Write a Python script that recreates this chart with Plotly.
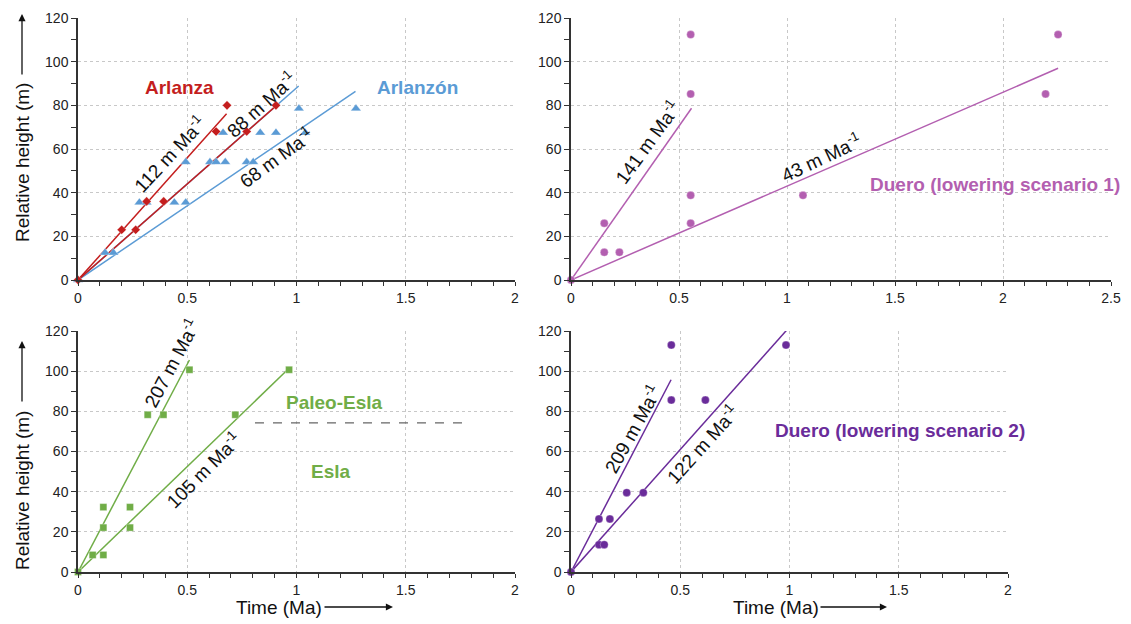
import plotly.graph_objects as go

W, H = 1123, 616   # visible area inside the page body margin
OFF = 8            # page body margin offset of the plot div

# ---------------- data ----------------
arlanza_t = [0, 0.20, 0.264, 0.314, 0.392, 0.632, 0.682, 0.772, 0.906]
arlanza_h = [0, 23, 23, 36, 36, 68, 80, 68, 80]

arlanzon_t = [0, 0.124, 0.162, 0.281, 0.314, 0.441, 0.493, 0.493, 0.604, 0.632,
              0.674, 0.772, 0.802, 0.664, 0.834, 0.906, 1.040, 1.011, 1.272]
arlanzon_h = [0, 12.5, 12.5, 35.5, 35.5, 35.5, 35.5, 54, 54, 54,
              54, 54, 54, 67.5, 67.5, 67.5, 67.5, 78.5, 78.5]

duero1_t = [0, 0.154, 0.154, 0.224, 0.554, 0.554, 0.554, 0.554, 1.074, 2.197, 2.255]
duero1_h = [0, 26, 12.7, 12.7, 112.4, 85.2, 38.8, 26, 38.8, 85.2, 112.4]

esla_t = [0, 0.067, 0.116, 0.116, 0.116, 0.238, 0.238, 0.319, 0.391, 0.51, 0.72, 0.966]
esla_h = [0, 8.5, 8.5, 22.1, 32.3, 22.1, 32.3, 78.3, 78.3, 100.7, 78.3, 100.7]

duero2_t = [0, 0.128, 0.128, 0.152, 0.178, 0.255, 0.331, 0.459, 0.459, 0.615, 0.984]
duero2_h = [0, 26.4, 13.6, 13.6, 26.4, 39.5, 39.5, 113, 85.6, 85.6, 113]

# incision rates (m/Ma) and the time span of each fitted line
arlanza_rates, arlanza_tend = [112, 88], [0.68, 0.91]
arlanzon_rates, arlanzon_tend = [88, 68], [1.01, 1.27]
duero1_rates, duero1_tend = [141, 43], [0.558, 2.255]
esla_rates, esla_tend = [207, 105], [0.51, 0.966]
duero2_rates, duero2_tend = [209, 122], [0.458, 0.988]

paleo_esla_boundary = 74.3
boundary_t = [0.81, 1.76]

# ---------------- style ----------------
RED = "#c41e1e"
BLUE = "#5b9bd5"
PINK = "#b35fb0"
GREEN = "#70ad47"
PURPLE = "#6a2c9a"
FONT = "Liberation Sans, Arial, sans-serif"

fig = go.Figure()


def px_x(p):
    return (p - OFF) / W


def px_y(p):
    return 1 - (p - OFF) / H


panels = {
    1: dict(x=(78, 515), y=(18, 280), xr=[0, 2]),
    2: dict(x=(571, 1111), y=(18, 280), xr=[0, 2.5]),
    3: dict(x=(78, 515), y=(331, 572), xr=[0, 2]),
    4: dict(x=(571, 1008), y=(331, 572), xr=[0, 2]),
}


def add_points(n, t, h, color, symbol, size):
    fig.add_trace(go.Scatter(
        x=t, y=h, mode="markers", xaxis=f"x{n}", yaxis=f"y{n}",
        marker=dict(color=color, symbol=symbol, size=size,
                    line=dict(width=0.5, color="rgba(255,255,255,0.6)")),
        cliponaxis=False, showlegend=False, hoverinfo="x+y"))


def add_rate_lines(n, rates, tend, color):
    for r, te in zip(rates, tend):
        fig.add_trace(go.Scatter(
            x=[0, te], y=[0, r * te], mode="lines", xaxis=f"x{n}", yaxis=f"y{n}",
            line=dict(color=color, width=1.5), showlegend=False, hoverinfo="skip"))


add_rate_lines(1, arlanzon_rates, arlanzon_tend, BLUE)
add_rate_lines(1, arlanza_rates, arlanza_tend, RED)
add_points(1, arlanzon_t, arlanzon_h, BLUE, "triangle-up", 9)
add_points(1, arlanza_t, arlanza_h, RED, "diamond", 7)

add_rate_lines(2, duero1_rates, duero1_tend, PINK)
add_points(2, duero1_t, duero1_h, PINK, "circle", 8)

add_rate_lines(3, esla_rates, esla_tend, GREEN)
add_points(3, esla_t, esla_h, GREEN, "square", 7)
fig.add_trace(go.Scatter(
    x=boundary_t, y=[paleo_esla_boundary] * 2, mode="lines", xaxis="x3", yaxis="y3",
    line=dict(color="#666666", width=1.2, dash="dash"), showlegend=False, hoverinfo="skip"))

add_rate_lines(4, duero2_rates, duero2_tend, PURPLE)
add_points(4, duero2_t, duero2_h, PURPLE, "circle", 8)

layout = {}
for n, p in panels.items():
    xa = "xaxis" if n == 1 else f"xaxis{n}"
    ya = "yaxis" if n == 1 else f"yaxis{n}"
    layout[xa] = dict(
        domain=[px_x(p["x"][0]), px_x(p["x"][1])], anchor=f"y{n}", range=p["xr"],
        dtick=0.5, tick0=0, ticks="outside", ticklen=4, tickwidth=1, tickcolor="#333",
        showline=True, linecolor="#333", linewidth=1.5, zeroline=False,
        showgrid=True, gridcolor="#c8c8c8", griddash="dot", gridwidth=1,
        minor=dict(dtick=0.1, ticks="outside", ticklen=4, tickcolor="#333", showgrid=False),
        tickfont=dict(family=FONT, size=14, color="#222"), fixedrange=True,
        automargin=False)
    layout[ya] = dict(
        domain=[px_y(p["y"][1]), px_y(p["y"][0])], anchor=f"x{n}", range=[0, 120],
        dtick=20, tick0=0, ticks="outside", ticklen=5, tickwidth=1, tickcolor="#333",
        showline=True, linecolor="#333", linewidth=1.5, zeroline=False,
        showgrid=True, gridcolor="#c8c8c8", griddash="dot", gridwidth=1,
        minor=dict(dtick=10, ticks="outside", ticklen=5, tickcolor="#333", showgrid=False),
        tickfont=dict(family=FONT, size=14, color="#222"), fixedrange=True,
        automargin=False)

annotations = []


def note(text, x, y, color="#111", size=19, angle=0, bold=False):
    annotations.append(dict(
        text=f"<b>{text}</b>" if bold else text, x=px_x(x), y=px_y(y),
        xref="paper", yref="paper", showarrow=False, textangle=angle,
        xanchor="center", yanchor="middle",
        font=dict(family=FONT, size=size, color=color)))


def arrow(x_head, y_head, ax, ay):
    annotations.append(dict(
        text="", x=px_x(x_head), y=px_y(y_head), xref="paper", yref="paper",
        showarrow=True, ax=ax, ay=ay, arrowhead=2, arrowsize=1.1, arrowwidth=1.3,
        arrowcolor="#111"))


# panel labels
note("Arlanza", 179, 87, RED, 19, bold=True)
note("Arlanzón", 417, 87, BLUE, 19, bold=True)
note("112 m Ma<sup>-1</sup>", 169, 154, angle=-47)
note("88 m Ma<sup>-1</sup>", 261, 104, angle=-42)
note("68 m Ma<sup>-1</sup>", 276, 157, angle=-36)

note("141 m Ma<sup>-1</sup>", 647, 142, angle=-54)
note("43 m Ma<sup>-1</sup>", 821, 157, angle=-25)
note("Duero (lowering scenario 1)", 995, 184, PINK, 19, bold=True)

note("207 m Ma<sup>-1</sup>", 171, 363, angle=-62)
note("105 m Ma<sup>-1</sup>", 203, 470, angle=-45)
note("Paleo-Esla", 334, 402, GREEN, 19, bold=True)
note("Esla", 331, 471, GREEN, 19, bold=True)

note("209 m Ma<sup>-1</sup>", 632, 429, angle=-61)
note("122 m Ma<sup>-1</sup>", 702, 444, angle=-48)
note("Duero (lowering scenario 2)", 900, 430, PURPLE, 19, bold=True)

# axis titles with arrows
note("Relative height (m)", 22, 163, "#111", 19, angle=-90)
arrow(22, 14, 0, 62)
note("Relative height (m)", 22, 491, "#111", 19, angle=-90)
arrow(22, 341, 0, 62)
note("Time (Ma)", 279, 607, "#111", 19)
arrow(393, 607, -70, 0)
note("Time (Ma)", 776, 607, "#111", 19)
arrow(887, 607, -68, 0)

fig.update_layout(
    **layout,
    annotations=annotations,
    width=W, height=H, autosize=False,
    margin=dict(l=0, r=0, t=0, b=0, pad=0, autoexpand=False),
    paper_bgcolor="white", plot_bgcolor="white",
    font=dict(family=FONT),
    showlegend=False,
)

fig.write_html("out.html", config={"displayModeBar": False})
